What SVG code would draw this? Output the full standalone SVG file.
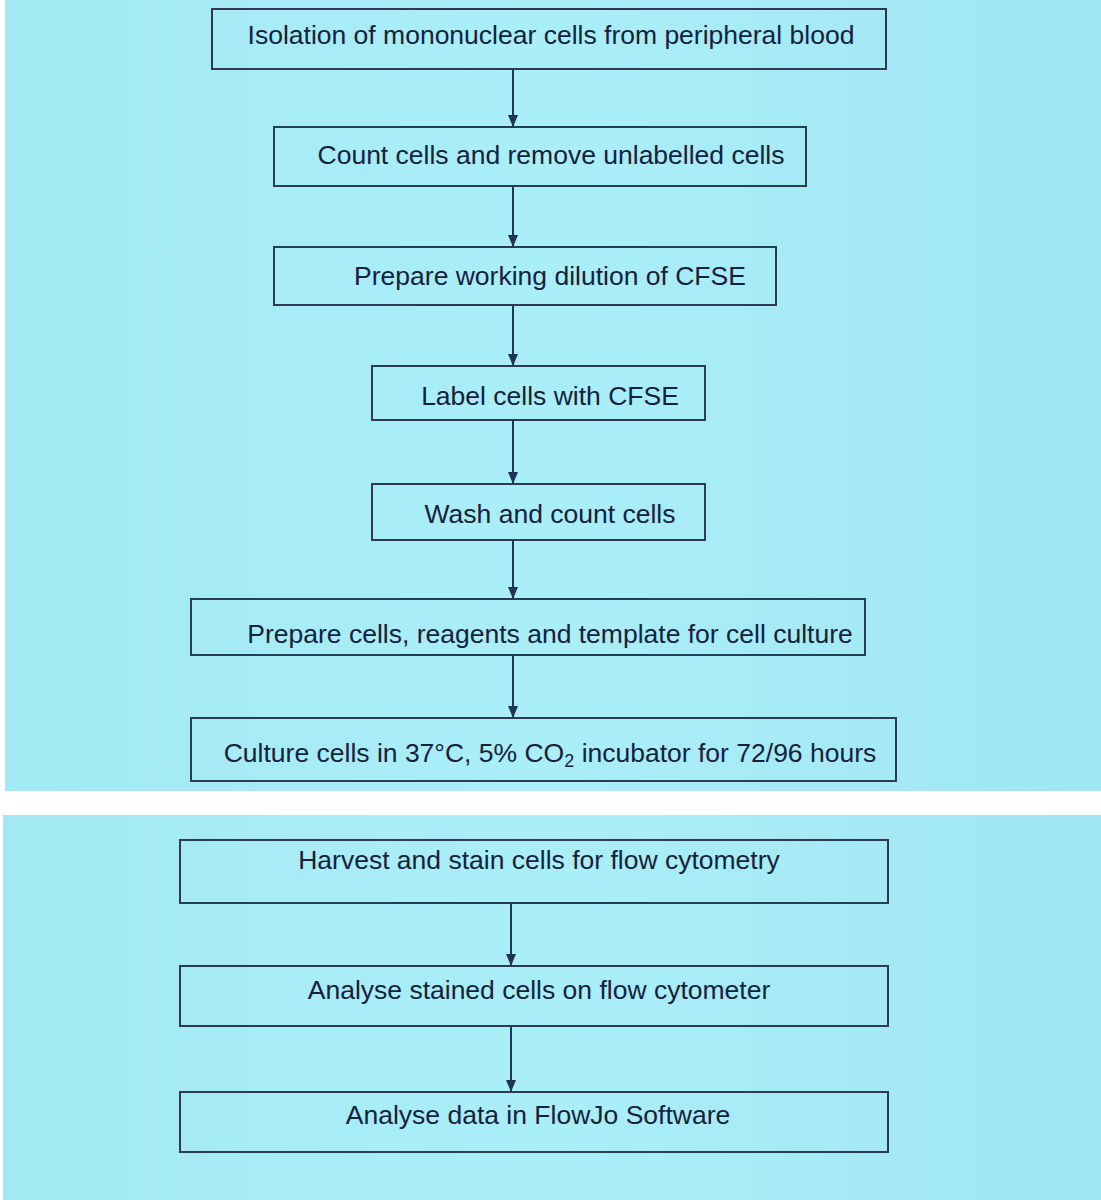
<svg xmlns="http://www.w3.org/2000/svg" width="1101" height="1200" viewBox="0 0 1101 1200">
<defs>
<linearGradient id="bg" x1="0" y1="0" x2="1" y2="0">
<stop offset="0" stop-color="#a3e9f4"/>
<stop offset="0.5" stop-color="#aaeef8"/>
<stop offset="1" stop-color="#a0e6f3"/>
</linearGradient>
<marker id="ah" viewBox="0 0 12 10" refX="12" refY="5" markerWidth="12" markerHeight="10" markerUnits="userSpaceOnUse" orient="auto">
<path d="M0,0 L12,5 L0,10 Z" fill="#1f3556"/>
</marker>
</defs>
<style>
.box{fill:none;stroke:#2b3b52;stroke-width:2}
.lbl{font-family:"Liberation Sans",Arial,sans-serif;font-size:26.5px;fill:#15223c;text-anchor:middle}
.con{stroke:#1f3556;stroke-width:2;fill:none}
</style>
<rect x="0" y="0" width="1101" height="1200" fill="#ffffff"/>
<rect x="5" y="0" width="1096" height="791" fill="url(#bg)"/>
<rect x="3" y="815" width="1098" height="385" fill="url(#bg)"/>
<g id="connectors">
<line class="con" x1="513" y1="69" x2="513" y2="127" marker-end="url(#ah)"/>
<line class="con" x1="513" y1="186" x2="513" y2="247" marker-end="url(#ah)"/>
<line class="con" x1="513" y1="305" x2="513" y2="366" marker-end="url(#ah)"/>
<line class="con" x1="513" y1="420" x2="513" y2="484" marker-end="url(#ah)"/>
<line class="con" x1="513" y1="540" x2="513" y2="599" marker-end="url(#ah)"/>
<line class="con" x1="513" y1="655" x2="513" y2="718" marker-end="url(#ah)"/>
<line class="con" x1="511" y1="903" x2="511" y2="966" marker-end="url(#ah)"/>
<line class="con" x1="511" y1="1026" x2="511" y2="1092" marker-end="url(#ah)"/>
</g>
<g id="n1"><rect class="box" x="212" y="9" width="674" height="60"/><text class="lbl" x="551" y="44">Isolation of mononuclear cells from peripheral blood</text></g>
<g id="n2"><rect class="box" x="274" y="127" width="532" height="59"/><text class="lbl" x="551" y="164">Count cells and remove unlabelled cells</text></g>
<g id="n3"><rect class="box" x="274" y="247" width="502" height="58"/><text class="lbl" x="550" y="285">Prepare working dilution of CFSE</text></g>
<g id="n4"><rect class="box" x="372" y="366" width="333" height="54"/><text class="lbl" x="550" y="405">Label cells with CFSE</text></g>
<g id="n5"><rect class="box" x="372" y="484" width="333" height="56"/><text class="lbl" x="550" y="523">Wash and count cells</text></g>
<g id="n6"><rect class="box" x="191" y="599" width="674" height="56"/><text class="lbl" x="550" y="643">Prepare cells, reagents and template for cell culture</text></g>
<g id="n7"><rect class="box" x="191" y="718" width="705" height="63"/><text class="lbl" x="550" y="762">Culture cells in 37°C, 5% CO<tspan font-size="18" dy="5">2</tspan><tspan dy="-5"> incubator for 72/96 hours</tspan></text></g>
<g id="n8"><rect class="box" x="180" y="840" width="708" height="63"/><text class="lbl" x="539" y="869">Harvest and stain cells for flow cytometry</text></g>
<g id="n9"><rect class="box" x="180" y="966" width="708" height="60"/><text class="lbl" x="539" y="999">Analyse stained cells on flow cytometer</text></g>
<g id="n10"><rect class="box" x="180" y="1092" width="708" height="60"/><text class="lbl" x="538" y="1124">Analyse data in FlowJo Software</text></g>
</svg>
